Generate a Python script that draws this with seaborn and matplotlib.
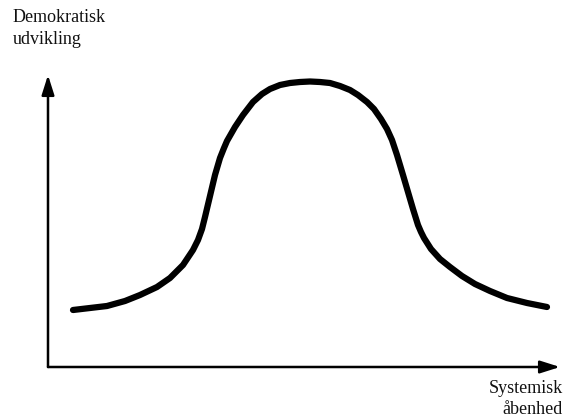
import matplotlib
matplotlib.use('Agg')
import matplotlib.pyplot as plt
import seaborn as sns
import pandas as pd

# curve (openness vs. democratic development)
openness = [25, 42, 59, 77, 92, 109, 122, 135, 145, 150,
            154, 157, 162, 167, 172, 176, 179, 187, 195, 205,
            214, 222, 232, 242, 252, 262, 272, 282, 292, 302,
            310, 319, 326, 333, 339, 344, 349, 355, 360, 365,
            370, 373, 376, 383, 392, 402, 414, 427, 442, 459,
            479, 499]
development = [57, 59, 61, 66, 72, 80, 89, 102, 117, 127,
               138, 150, 171, 192, 209, 219, 226, 240, 252, 265,
               273, 278, 282, 284, 285, 285.5, 285, 284, 281, 277,
               272, 265, 258, 248, 238, 227, 212, 192, 175, 158,
               142, 135, 129, 118, 108, 100, 91, 83, 76, 69,
               64, 60]

y_label = 'Demokratisk\nudvikling'
x_label = 'Systemisk\nåbenhed'

df = pd.DataFrame({'x': openness, 'y': development})

sns.set_style('white')
plt.rcParams['font.family'] = ['Liberation Serif', 'DejaVu Serif']

fig = plt.figure(figsize=(5.65, 4.2), dpi=100)
ax = fig.add_axes([48 / 565, 53 / 420, 512 / 565, 292 / 420])

sns.lineplot(data=df, x='x', y='y', sort=False, color='black',
             linewidth=4.5, solid_capstyle='round', solid_joinstyle='round', ax=ax)

ax.set_xlim(0, 512)
ax.set_ylim(0, 292)
for s in ax.spines.values():
    s.set_visible(False)
ax.set_xticks([])
ax.set_yticks([])
ax.set_xlabel('')
ax.set_ylabel('')

arrow = dict(arrowstyle='-|>,head_length=1.2,head_width=0.38', color='black', lw=1.8,
             shrinkA=0, shrinkB=0)
ax.annotate('', xy=(1, 0), xytext=(0, 0), xycoords='axes fraction', arrowprops=arrow)
ax.annotate('', xy=(0, 1), xytext=(0, 0), xycoords='axes fraction', arrowprops=arrow)

fig.text(13 / 565, 1 - 9 / 420, y_label, ha='left', va='top', fontsize=13,
         linespacing=1.4, color='#111111')
fig.text(563 / 565, 2 / 420, x_label, ha='right', va='bottom', fontsize=13,
         linespacing=1.3, multialignment='right', color='#111111')

fig.savefig('out.png', dpi=100)
